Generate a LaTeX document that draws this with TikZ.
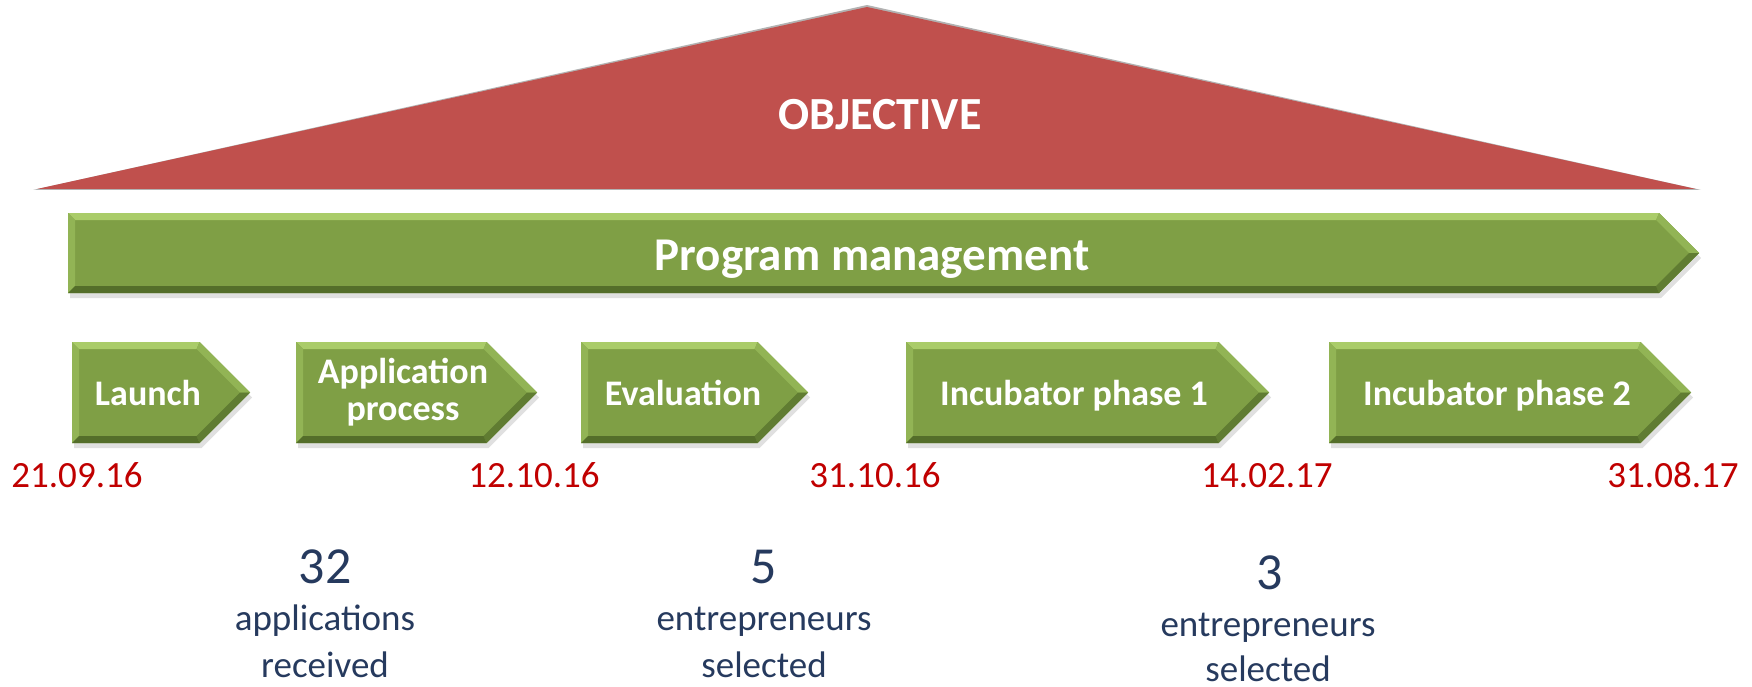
\documentclass[tikz,border=0pt]{standalone}
\usepackage{fontspec}
\setmainfont{Carlito}
\definecolor{objred}{RGB}{192,80,77}
\definecolor{grn}{RGB}{127,159,69}
\definecolor{grnlight}{RGB}{170,204,105}
\definecolor{grnmid}{RGB}{146,180,85}
\definecolor{grndark}{RGB}{96,124,50}
\definecolor{grndarker}{RGB}{84,110,42}
\definecolor{datered}{RGB}{192,0,0}
\definecolor{navy}{RGB}{38,58,94}
\tikzset{
  lbl/.style={text=white,font=\bfseries\fontsize{36}{40}\selectfont,inner sep=0pt,anchor=base,align=center},
  datelbl/.style={text=datered,font=\fontsize{37}{40}\selectfont,inner sep=0pt,anchor=base},
  numlbl/.style={text=navy,font=\fontsize{52}{56}\selectfont,inner sep=0pt,anchor=base},
  desclbl/.style={text=navy,font=\fontsize{37}{40}\selectfont,inner sep=0pt,anchor=base},
}
% #1 left, #2 top, #3 tip, #4 bottom
\newcommand{\mychev}[4]{%
  \pgfmathsetmacro\cym{(#2+#4)/2}%
  \pgfmathsetmacro\chh{(#4-#2)/2}%
  \pgfmathsetmacro\cxr{#3-\chh}%
  \pgfmathsetmacro\bv{7}%
  \pgfmathsetmacro\ixl{#1+\bv}%
  \pgfmathsetmacro\iyt{#2+\bv}%
  \pgfmathsetmacro\iyb{#4-\bv}%
  \pgfmathsetmacro\ixr{\cxr-0.414*\bv}%
  \pgfmathsetmacro\itip{#3-1.414*\bv}%
  \fill[black,opacity=0.12] (#1+2,#2+5) -- (\cxr+2,#2+5) -- (#3+2,\cym+5) -- (\cxr+2,#4+5) -- (#1+2,#4+5) -- cycle;
  \fill[grn] (#1,#2) -- (\cxr,#2) -- (#3,\cym) -- (\cxr,#4) -- (#1,#4) -- cycle;
  \fill[grnlight] (#1,#2) -- (\cxr,#2) -- (\ixr,\iyt) -- (\ixl,\iyt) -- cycle;
  \fill[grnmid] (#1,#2) -- (\ixl,\iyt) -- (\ixl,\iyb) -- (#1,#4) -- cycle;
  \fill[grnmid] (\cxr,#2) -- (#3,\cym) -- (\itip,\cym) -- (\ixr,\iyt) -- cycle;
  \fill[grndark] (#3,\cym) -- (\cxr,#4) -- (\ixr,\iyb) -- (\itip,\cym) -- cycle;
  \fill[grndarker] (#1,#4) -- (\cxr,#4) -- (\ixr,\iyb) -- (\ixl,\iyb) -- cycle;
}
\begin{document}
\begin{tikzpicture}[x=1pt,y=-1pt]
\useasboundingbox (0,0) rectangle (1752,687);
% objective triangle
\fill[black!30] (33,190) -- (867,5) -- (1701,190) -- cycle;
\fill[objred] (37,189) -- (867,7) -- (1696,189) -- cycle;
\node[text=white,font=\bfseries\fontsize{46}{50}\selectfont,inner sep=0pt,anchor=base] (obj) at (880,130) {OBJECTIVE};
% program management bar
\mychev{68}{213}{1699}{293}
\node[text=white,font=\bfseries\fontsize{47}{50}\selectfont,inner sep=0pt,anchor=base] (pm) at (872,270) {Program management};
% phases
\mychev{72}{342}{250}{443}
\mychev{296}{342}{537}{443}
\mychev{581}{342}{808}{443}
\mychev{906}{342}{1269}{443}
\mychev{1329}{342}{1691}{443}
\node[lbl] (launch) at (148,405) {Launch};
\node[lbl] (app1) at (403,383) {Application};
\node[lbl] (app2) at (403,420) {process};
\node[lbl] (eval) at (683,405) {Evaluation};
\node[lbl] (inc1) at (1074,405) {Incubator phase 1};
\node[lbl] (inc2) at (1497,405) {Incubator phase 2};
% dates
\node[datelbl] (d1) at (77,487) {21.09.16};
\node[datelbl] (d2) at (534,487) {12.10.16};
\node[datelbl] (d3) at (875,487) {31.10.16};
\node[datelbl] (d4) at (1267,487) {14.02.17};
\node[datelbl] (d5) at (1673,487) {31.08.17};
% results
\node[numlbl] (n1) at (325,583) {32};
\node[desclbl] (t1a) at (325,630) {applications};
\node[desclbl] (t1b) at (325,677) {received};
\node[numlbl] (n2) at (764,583) {5};
\node[desclbl] (t2a) at (764,630) {entrepreneurs};
\node[desclbl] (t2b) at (764,677) {selected};
\node[numlbl] (n3) at (1270,589) {3};
\node[desclbl] (t3a) at (1268,636) {entrepreneurs};
\node[desclbl] (t3b) at (1268,681) {selected};
\end{tikzpicture}
\end{document}
